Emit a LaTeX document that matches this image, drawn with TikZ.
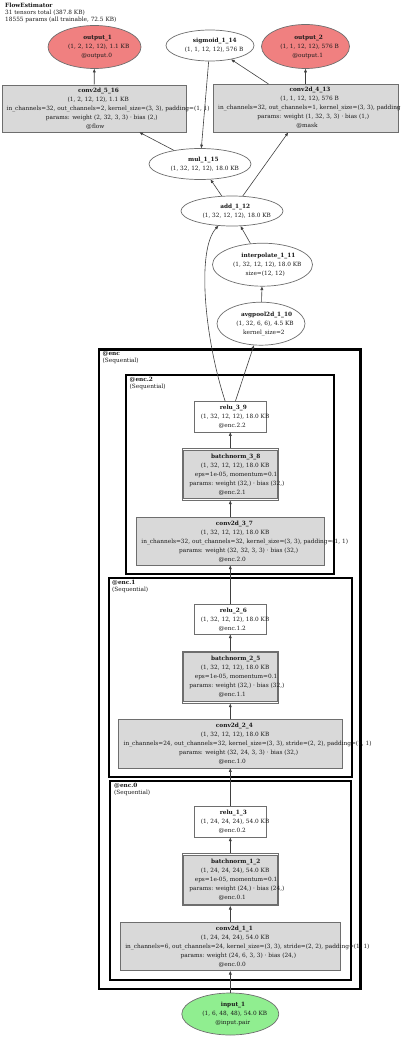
\documentclass[tikz,border=0pt]{standalone}
\usepackage{fontspec}
\setmainfont{DejaVu Serif}
\usetikzlibrary{shapes.geometric,arrows.meta}
\definecolor{nodeline}{HTML}{6E6E6E}
\definecolor{convfill}{HTML}{D9D9D9}
\definecolor{outfill}{HTML}{F08080}
\definecolor{infill}{HTML}{90EE90}
\definecolor{edgecol}{HTML}{404040}
\definecolor{txtcol}{HTML}{1A1A1A}
\newsavebox{\glinebox}
\newcommand{\glin}[1]{\sbox{\glinebox}{#1}\makebox[0.86\wd\glinebox][l]{\usebox{\glinebox}}}
\newcommand{\glbold}[1]{\sbox{\glinebox}{\textbf{#1}}\makebox[0.78\wd\glinebox][l]{\usebox{\glinebox}}}
\tikzset{
  ell/.style={ellipse, draw=nodeline, line width=0.7pt, fill=white, inner sep=0pt},
  box/.style={rectangle, draw=nodeline, line width=0.7pt, fill=convfill, inner sep=0pt},
  whitebox/.style={box, fill=white},
  innerbox/.style={draw=nodeline, line width=0.7pt, fill=convfill},
  txt/.style={align=center, inner sep=0pt, text=txtcol, font=\fontsize{5.8}{9}\selectfont},
  lbl/.style={align=left, anchor=north west, inner sep=0pt, text=txtcol, font=\fontsize{5.8}{6.8}\selectfont},
  arr/.style={draw=edgecol, line width=0.6pt, -{Triangle[length=3.5pt,width=2.8pt]}},
  clusouter/.style={draw=black, line width=2.5pt},
  clusinner/.style={draw=black, line width=1.8pt}
}
\begin{document}
\begin{tikzpicture}[x=1pt,y=-1pt]
\useasboundingbox (0,0) rectangle (400,1038);
% header
\node[lbl] (hdr) at (5,3) {\textbf{FlowEstimator}\\31 tensors total (387.8 KB)\\18555 params (all trainable, 72.5 KB)};
% clusters
\draw[clusouter] (99,349.3) rectangle (360.7,989);
\draw[clusinner] (126.3,375.3) rectangle (333.7,574.3);
\draw[clusinner] (108.7,577.7) rectangle (352,776.7);
\draw[clusinner] (110,780.7) rectangle (350.7,980);
\node[lbl] (encl) at (102.5,351.5) {\textbf{@enc}\\(Sequential)};
\node[lbl] (enc2l) at (129.5,377.3) {\textbf{@enc.2}\\(Sequential)};
\node[lbl] (enc1l) at (112,580) {\textbf{@enc.1}\\(Sequential)};
\node[lbl] (enc0l) at (114,783) {\textbf{@enc.0}\\(Sequential)};
% top nodes
\node[ell, fill=outfill, minimum width=93pt, minimum height=43pt] (o1) at (94.5,47) {};
\node[ell, minimum width=88pt, minimum height=31pt] (sig) at (210,45.5) {};
\node[ell, fill=outfill, minimum width=88pt, minimum height=44pt] (o2) at (305.5,46.5) {};
\node[box, minimum width=184pt, minimum height=47pt] (c516) at (94,108.5) {};
\node[box, minimum width=185pt, minimum height=48pt] (c413) at (305.5,108.3) {};
\node[ell, minimum width=102pt, minimum height=31pt] (mul) at (200,164) {};
\node[ell, minimum width=102pt, minimum height=30pt] (add) at (232,211) {};
\node[ell, minimum width=100pt, minimum height=43pt] (interp) at (262.5,264.7) {};
\node[ell, minimum width=88pt, minimum height=43pt] (avg) at (261,323.7) {};
% enc.2
\node[whitebox, minimum width=71.4pt, minimum height=30.7pt] (r39) at (230.3,416.7) {};
\node[whitebox, minimum width=96.4pt, minimum height=52pt] (bn38) at (230.3,474.3) {};
\draw[innerbox] ([xshift=2pt,yshift=-2pt]bn38.north west) rectangle ([xshift=-2pt,yshift=2pt]bn38.south east);
\node[box, minimum width=188pt, minimum height=48pt] (c37) at (230.3,541.3) {};
% enc.1
\node[whitebox, minimum width=71.4pt, minimum height=30pt] (r26) at (230.3,619.3) {};
\node[whitebox, minimum width=96.4pt, minimum height=52.3pt] (bn25) at (230.3,677.2) {};
\draw[innerbox] ([xshift=2pt,yshift=-2pt]bn25.north west) rectangle ([xshift=-2pt,yshift=2pt]bn25.south east);
\node[box, minimum width=224pt, minimum height=48.7pt] (c24) at (230.3,743.7) {};
% enc.0
\node[whitebox, minimum width=71.4pt, minimum height=30.6pt] (r13) at (230.3,822) {};
\node[whitebox, minimum width=96.4pt, minimum height=52pt] (bn12) at (230.3,879.7) {};
\draw[innerbox] ([xshift=2pt,yshift=-2pt]bn12.north west) rectangle ([xshift=-2pt,yshift=2pt]bn12.south east);
\node[box, minimum width=220.4pt, minimum height=48.4pt] (c11) at (230.3,946.5) {};
% input
\node[ell, fill=infill, minimum width=97pt, minimum height=42pt] (in1) at (230.3,1014) {};
% edges
\draw[arr] (in1) -- (c11);
\draw[arr] (c11) -- (bn12);
\draw[arr] (bn12) -- (r13);
\draw[arr] (r13) -- (c24);
\draw[arr] (c24) -- (bn25);
\draw[arr] (bn25) -- (r26);
\draw[arr] (r26) -- (c37);
\draw[arr] (c37) -- (bn38);
\draw[arr] (bn38) -- (r39);
\draw[arr] (r39) -- (avg);
\draw[arr] (r39) .. controls (205,340) and (196,250) .. (add);
\draw[arr] (avg) -- (interp);
\draw[arr] (interp) -- (add);
\draw[arr] (add) -- (mul);
\draw[arr] (add) -- (c413);
\draw[arr] (mul) -- (c516);
\draw[arr] (sig) -- (mul);
\draw[arr] (c413) -- (sig);
\draw[arr] (c413) -- (o2);
\draw[arr] (c516) -- (o1);
% texts
\node[txt] (o1t) at (o1) {\glbold{output\_1}\\\glin{(1, 2, 12, 12), 1.1 KB}\\\glin{@output.0}};
\node[txt] (sigt) at (sig) {\glbold{sigmoid\_1\_14}\\\glin{(1, 1, 12, 12), 576 B}};
\node[txt] (o2t) at (o2) {\glbold{output\_2}\\\glin{(1, 1, 12, 12), 576 B}\\\glin{@output.1}};
\node[txt] (c516t) at (c516) {\glbold{conv2d\_5\_16}\\\glin{(1, 2, 12, 12), 1.1 KB}\\\glin{in\_channels=32, out\_channels=2, kernel\_size=(3, 3), padding=(1, 1)}\\\glin{params: weight (2, 32, 3, 3) · bias (2,)}\\\glin{@flow}};
\node[txt] (c413t) at (c413) {\glbold{conv2d\_4\_13}\\\glin{(1, 1, 12, 12), 576 B}\\\glin{in\_channels=32, out\_channels=1, kernel\_size=(3, 3), padding=(1, 1)}\\\glin{params: weight (1, 32, 3, 3) · bias (1,)}\\\glin{@mask}};
\node[txt] (mult) at (mul) {\glbold{mul\_1\_15}\\\glin{(1, 32, 12, 12), 18.0 KB}};
\node[txt] (addt) at (add) {\glbold{add\_1\_12}\\\glin{(1, 32, 12, 12), 18.0 KB}};
\node[txt] (interpt) at (interp) {\glbold{interpolate\_1\_11}\\\glin{(1, 32, 12, 12), 18.0 KB}\\\glin{size=(12, 12)}};
\node[txt] (avgt) at (avg) {\glbold{avgpool2d\_1\_10}\\\glin{(1, 32, 6, 6), 4.5 KB}\\\glin{kernel\_size=2}};
\node[txt] (r39t) at (r39) {\glbold{relu\_3\_9}\\\glin{(1, 32, 12, 12), 18.0 KB}\\\glin{@enc.2.2}};
\node[txt] (bn38t) at (bn38) {\glbold{batchnorm\_3\_8}\\\glin{(1, 32, 12, 12), 18.0 KB}\\\glin{eps=1e-05, momentum=0.1}\\\glin{params: weight (32,) · bias (32,)}\\\glin{@enc.2.1}};
\node[txt] (c37t) at (c37) {\glbold{conv2d\_3\_7}\\\glin{(1, 32, 12, 12), 18.0 KB}\\\glin{in\_channels=32, out\_channels=32, kernel\_size=(3, 3), padding=(1, 1)}\\\glin{params: weight (32, 32, 3, 3) · bias (32,)}\\\glin{@enc.2.0}};
\node[txt] (r26t) at (r26) {\glbold{relu\_2\_6}\\\glin{(1, 32, 12, 12), 18.0 KB}\\\glin{@enc.1.2}};
\node[txt] (bn25t) at (bn25) {\glbold{batchnorm\_2\_5}\\\glin{(1, 32, 12, 12), 18.0 KB}\\\glin{eps=1e-05, momentum=0.1}\\\glin{params: weight (32,) · bias (32,)}\\\glin{@enc.1.1}};
\node[txt] (c24t) at (c24) {\glbold{conv2d\_2\_4}\\\glin{(1, 32, 12, 12), 18.0 KB}\\\glin{in\_channels=24, out\_channels=32, kernel\_size=(3, 3), stride=(2, 2), padding=(1, 1)}\\\glin{params: weight (32, 24, 3, 3) · bias (32,)}\\\glin{@enc.1.0}};
\node[txt] (r13t) at (r13) {\glbold{relu\_1\_3}\\\glin{(1, 24, 24, 24), 54.0 KB}\\\glin{@enc.0.2}};
\node[txt] (bn12t) at (bn12) {\glbold{batchnorm\_1\_2}\\\glin{(1, 24, 24, 24), 54.0 KB}\\\glin{eps=1e-05, momentum=0.1}\\\glin{params: weight (24,) · bias (24,)}\\\glin{@enc.0.1}};
\node[txt] (c11t) at (c11) {\glbold{conv2d\_1\_1}\\\glin{(1, 24, 24, 24), 54.0 KB}\\\glin{in\_channels=6, out\_channels=24, kernel\_size=(3, 3), stride=(2, 2), padding=(1, 1)}\\\glin{params: weight (24, 6, 3, 3) · bias (24,)}\\\glin{@enc.0.0}};
\node[txt] (in1t) at (in1) {\glbold{input\_1}\\\glin{(1, 6, 48, 48), 54.0 KB}\\\glin{@input.pair}};
\end{tikzpicture}
\end{document}
